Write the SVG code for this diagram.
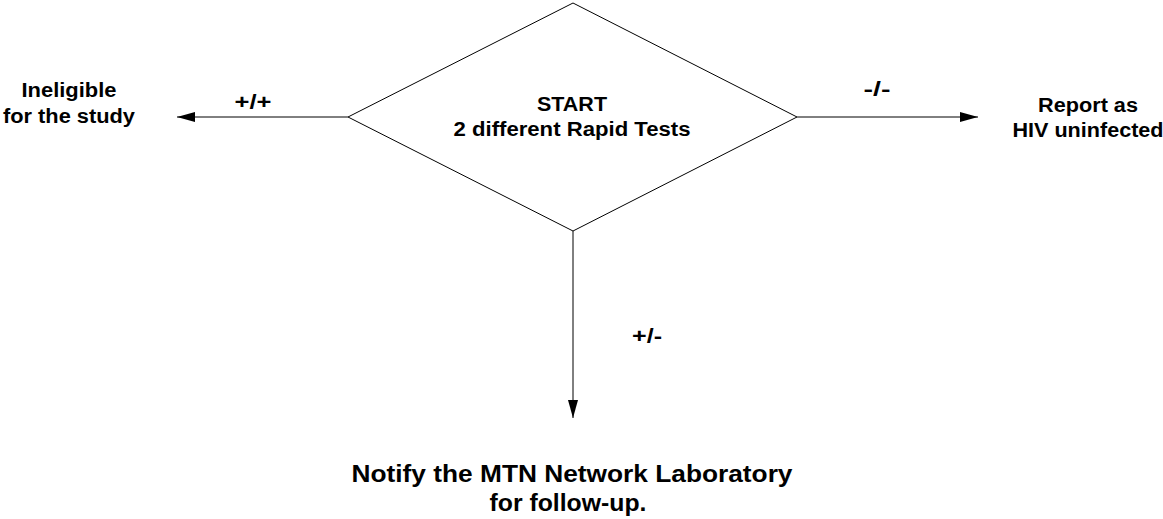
<svg xmlns="http://www.w3.org/2000/svg" width="1163" height="519" viewBox="0 0 1163 519">
  <style>
    .lbl { font-family: "Liberation Sans", Arial, sans-serif; font-weight: bold; fill: #000; text-anchor: middle; }
    .edge { stroke: #000; stroke-width: 1; fill: none; }
    .shape { fill: #fff; stroke: #000; stroke-width: 1; }
  </style>
  <defs>
    <marker id="arrow" viewBox="0 0 18 10" refX="18" refY="5" markerWidth="18" markerHeight="10" markerUnits="userSpaceOnUse" orient="auto">
      <path d="M0,0 L18,5 L0,10 Z" fill="#000"/>
    </marker>
  </defs>
  <rect width="1163" height="519" fill="#fff"/>

  <g id="connectors">
    <line class="edge" x1="348" y1="117" x2="177" y2="117" marker-end="url(#arrow)"/>
    <line class="edge" x1="797" y1="117" x2="978" y2="117" marker-end="url(#arrow)"/>
    <line class="edge" x1="573" y1="231" x2="573" y2="418" marker-end="url(#arrow)"/>
    <text class="lbl" x="253" y="109" font-size="21" textLength="37" lengthAdjust="spacingAndGlyphs">+/+</text>
    <text class="lbl" x="877" y="96" font-size="21" textLength="27" lengthAdjust="spacingAndGlyphs">-/-</text>
    <text class="lbl" x="647" y="343" font-size="21" textLength="30" lengthAdjust="spacingAndGlyphs">+/-</text>
  </g>

  <g id="start">
    <polygon class="shape" points="573,3 797,117 573,231 348,117"/>
    <text class="lbl" x="572" y="111" font-size="19.5" textLength="70" lengthAdjust="spacingAndGlyphs">START</text>
    <text class="lbl" x="572" y="136" font-size="19.5" textLength="237" lengthAdjust="spacingAndGlyphs">2 different Rapid Tests</text>
  </g>

  <g id="ineligible">
    <text class="lbl" x="69" y="97" font-size="19.5" textLength="95" lengthAdjust="spacingAndGlyphs">Ineligible</text>
    <text class="lbl" x="69" y="123" font-size="19.5" textLength="132" lengthAdjust="spacingAndGlyphs">for the study</text>
  </g>

  <g id="uninfected">
    <text class="lbl" x="1088" y="112" font-size="19.5" textLength="100" lengthAdjust="spacingAndGlyphs">Report as</text>
    <text class="lbl" x="1088" y="137" font-size="19.5" textLength="151" lengthAdjust="spacingAndGlyphs">HIV uninfected</text>
  </g>

  <g id="notify">
    <text class="lbl" x="572" y="482" font-size="23.5" textLength="441" lengthAdjust="spacingAndGlyphs">Notify the MTN Network Laboratory</text>
    <text class="lbl" x="568" y="511" font-size="23.5" textLength="157" lengthAdjust="spacingAndGlyphs">for follow-up.</text>
  </g>
</svg>
